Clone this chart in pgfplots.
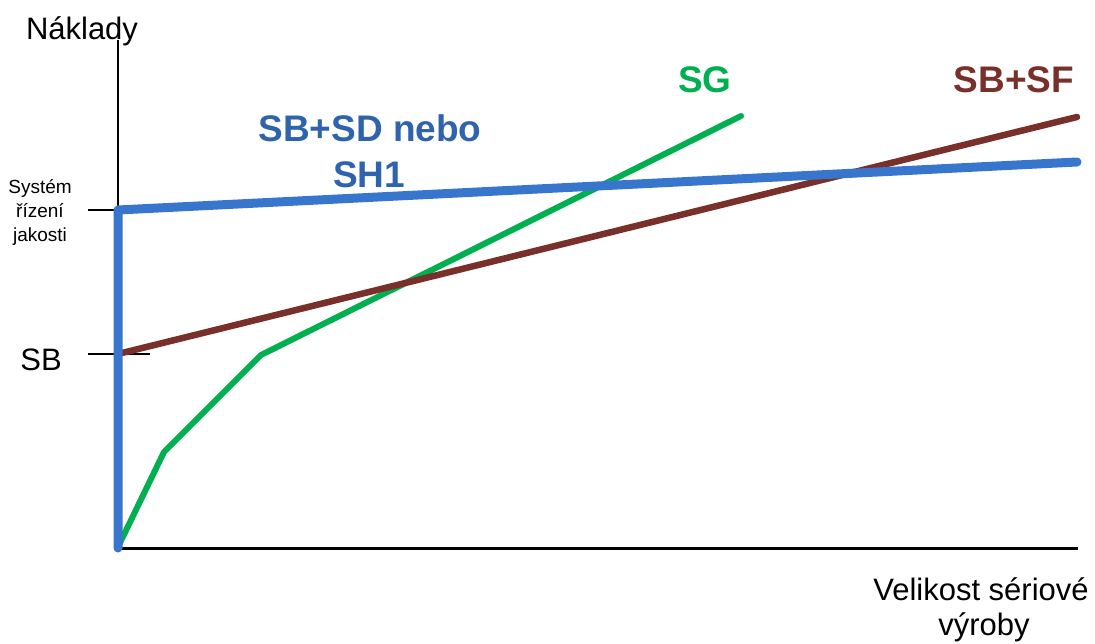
\documentclass[border=0pt]{standalone}
\usepackage{pgfplots}
\pgfplotsset{compat=1.18}
\usepackage{fontspec}
\setmainfont{Liberation Sans}
\definecolor{lblue}{RGB}{56,117,204}
\definecolor{tblue}{RGB}{47,99,173}
\definecolor{lgreen}{RGB}{0,176,80}
\definecolor{lbrown}{RGB}{121,47,42}
\begin{document}
\begin{tikzpicture}
\path[use as bounding box] (0,0) rectangle (1095pt,644pt);
\begin{axis}[
  at={(0,0)}, anchor=south west,
  scale only axis, width=1095pt, height=644pt,
  xmin=0, xmax=1095, ymin=0, ymax=644, y dir=reverse,
  hide axis, clip=false,
]
% axes
\addplot[black, line width=2pt] coordinates {(118,40) (118,548)};
\addplot[black, line width=3pt] coordinates {(118,548) (1078,548)};
\addplot[black, line width=1.5pt] coordinates {(88,210) (118,210)};
\addplot[black, line width=1.5pt] coordinates {(88,354) (150,354)};
% SG
\addplot[lgreen, line width=6pt, line cap=round, line join=round] coordinates {(118,547) (164,452) (261,355) (741,116)};
% SB+SF
\addplot[lbrown, line width=6.5pt, line cap=round, line join=round] coordinates {(118,354) (1077,117)};
% SB+SD nebo SH1
\addplot[lblue, line width=9pt, line cap=round, line join=round] coordinates {(118,548) (118,210) (1077,162)};
% labels
\node[anchor=base, font=\fontsize{31}{36}\selectfont] at (axis cs:82,40) {Náklady};
\node[anchor=base, font=\fontsize{19}{24}\selectfont] at (axis cs:40,194) {Systém};
\node[anchor=base, font=\fontsize{19}{24}\selectfont] at (axis cs:40,218) {řízení};
\node[anchor=base, font=\fontsize{19}{24}\selectfont] at (axis cs:40,242) {jakosti};
\node[anchor=base, font=\fontsize{31}{36}\selectfont] at (axis cs:41,370) {SB};
\node[anchor=base, font=\fontsize{31}{36}\selectfont] at (axis cs:981,600) {Velikost sériové};
\node[anchor=base, font=\fontsize{31}{36}\selectfont] at (axis cs:984,635) {výroby};
\node[anchor=base, text=tblue, font=\fontsize{37}{42}\selectfont\bfseries] at (axis cs:370,142) {SB+SD nebo};
\node[anchor=base, text=tblue, font=\fontsize{37}{42}\selectfont\bfseries] at (axis cs:369,188) {SH1};
\node[anchor=base, text=lgreen, font=\fontsize{37}{42}\selectfont\bfseries] at (axis cs:705,93) {SG};
\node[anchor=base, text=lbrown, font=\fontsize{37}{42}\selectfont\bfseries] at (axis cs:1014,93) {SB+SF};
\end{axis}
\end{tikzpicture}
\end{document}
